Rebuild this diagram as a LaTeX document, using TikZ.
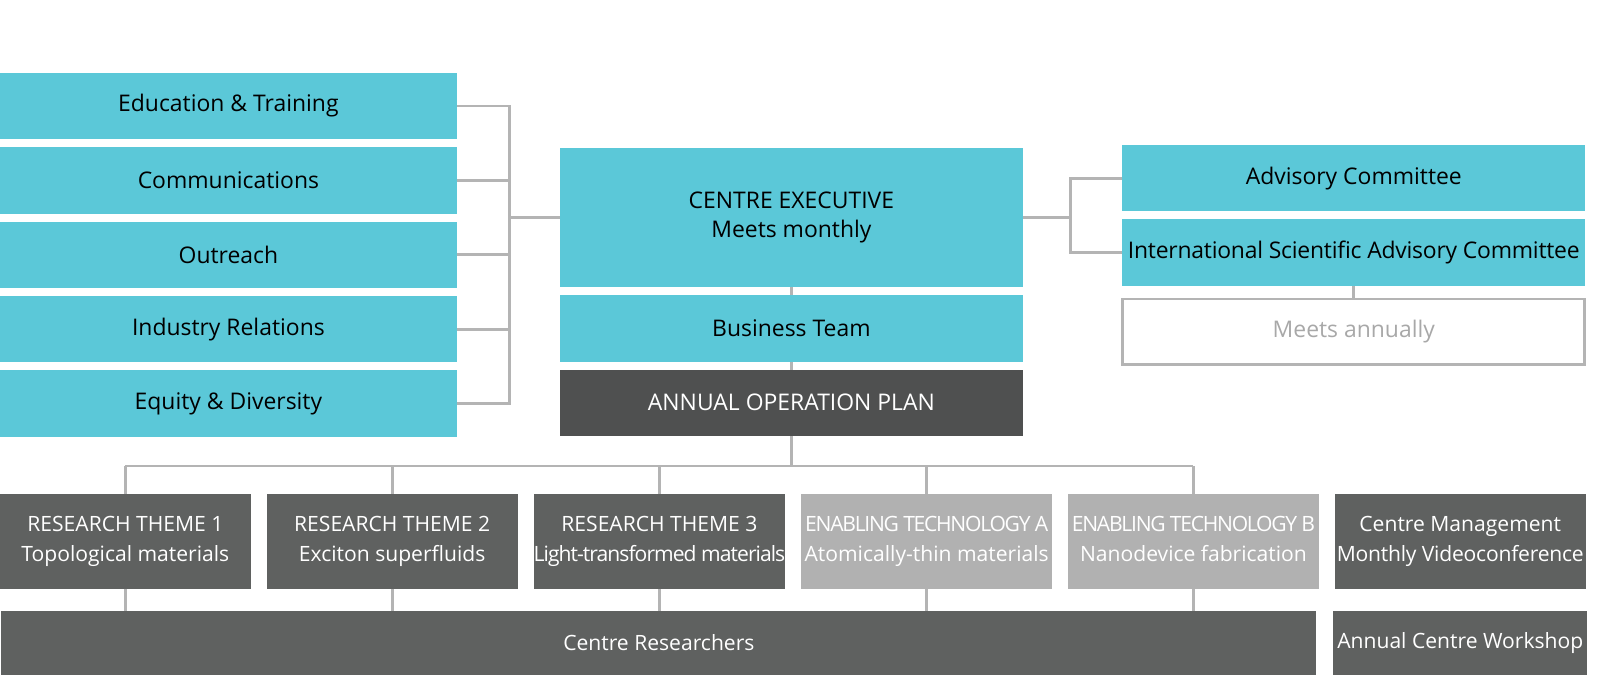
\documentclass[tikz,border=0pt]{standalone}
\usepackage{fontspec}
\setmainfont{Open Sans}
\newfontfamily\tightfont[LetterSpace=-6]{Open Sans}
\newfontfamily\narrowfont[LetterSpace=-4.5]{Open Sans}
\newfontfamily\snugfont[LetterSpace=-1]{Open Sans}
\usepackage{xcolor}
\usepackage{tikz}
\usetikzlibrary{positioning}
\definecolor{chartteal}{RGB}{91,200,216}
\definecolor{plangrey}{RGB}{79,80,80}
\definecolor{themegrey}{RGB}{95,97,96}
\definecolor{techgrey}{RGB}{177,177,177}
\definecolor{linkgrey}{RGB}{180,180,180}
\definecolor{meetgrey}{RGB}{168,168,168}
\tikzset{
    boxbase/.style={
        rectangle,
        inner sep=0pt,
        outer sep=0pt,
        align=center,
        minimum height=1.66cm,
        font=\fontsize{16.3}{21}\selectfont
    },
    sidebox/.style={boxbase, fill=chartteal, minimum width=11.42cm},
    centrebox/.style={boxbase, fill=chartteal, minimum width=11.57cm},
    planbox/.style={boxbase, fill=plangrey, text=white, minimum width=11.57cm},
    meetbox/.style={boxbase, draw=linkgrey, line width=2.1pt, text=meetgrey, minimum width=11.55cm, minimum height=1.64cm},
    themebox/.style={boxbase, fill=themegrey, text=white, minimum width=6.27cm, minimum height=2.38cm, font=\fontsize{15}{21}\selectfont},
    techbox/.style={themebox, fill=techgrey},
    link/.style={draw=linkgrey, line width=2.1pt},
}
\begin{document}
\begin{tikzpicture}[node distance=0.2cm]
    \useasboundingbox (0,0) rectangle (40.15,-16.95);

    % committees on the left
    \node[sidebox, anchor=north west] (edu) at (0,-1.82) {Education \& Training};
    \node[sidebox, below=of edu] (comms) {Communications};
    \node[sidebox, below=of comms] (outreach) {Outreach};
    \node[sidebox, below=of outreach] (industry) {Industry Relations};
    \node[sidebox, below=of industry] (equity) {Equity \& Diversity};

    % centre column
    \node[centrebox, anchor=north west, minimum height=3.49cm] (exec) at (14.0,-3.69) {CENTRE EXECUTIVE\\Meets monthly};
    \node[centrebox, below=of exec] (business) {Business Team};
    \node[planbox, below=of business] (plan) {ANNUAL OPERATION PLAN};

    % advisory side
    \node[centrebox, anchor=north west] (advisory) at (28.06,-3.625) {Advisory Committee};
    \node[centrebox, below=of advisory] (isac) {\snugfont International Scientific Advisory Committee};
    \node[meetbox, below=0.33cm of isac] (meets) {Meets annually};

    % themes and technologies
    \node[themebox, anchor=north west] (theme1) at (0,-12.35) {RESEARCH THEME 1\\Topological materials};
    \node[themebox, right=0.4cm of theme1] (theme2) {RESEARCH THEME 2\\Exciton superfluids};
    \node[themebox, right=0.4cm of theme2] (theme3) {RESEARCH THEME 3\\{\narrowfont Light-transformed materials}};
    \node[techbox, right=0.4cm of theme3] (techA) {{\tightfont ENABLING TECHNOLOGY A}\\Atomically-thin materials};
    \node[techbox, right=0.4cm of techA] (techB) {{\tightfont ENABLING TECHNOLOGY B}\\Nanodevice fabrication\vphantom{y}};
    \node[themebox, right=0.4cm of techB] (mgmt) {Centre Management\\{\snugfont Monthly Videoconference}};
    \node[themebox, below=0.535cm of mgmt, minimum width=6.34cm, minimum height=1.61cm] (workshop) {Annual Centre Workshop};
    \node[themebox, left=0.43cm of workshop, minimum width=32.87cm, minimum height=1.61cm] (researchers) {Centre Researchers};

    % connectors
    \draw[link] (edu.east) -- ++(1.31,0) |- (exec.west);
    \draw[link] (equity.east) -- ++(1.31,0) |- (exec.west);
    \draw[link] (comms.east) -- ++(1.31,0);
    \draw[link] (outreach.east) -- ++(1.31,0);
    \draw[link] (industry.east) -- ++(1.31,0);
    \draw[link] (exec.east) -- ++(1.19,0);
    \draw[link] (advisory.west) -- ++(-1.3,0) |- (isac.west);
    \draw[link] (isac.south) -- (meets.north);
    \draw[link] (exec.south) -- (business.north);
    \draw[link] (business.south) -- (plan.north);
    \draw[link] (plan.south) -- ++(0,-0.75) coordinate (bus);
    \draw[link] (theme1.north |- bus) -- (techB.north |- bus);
    \foreach \n in {theme1,theme2,theme3,techA,techB} {
        \draw[link] (\n.north |- bus) -- (\n.north);
        \draw[link] (\n.south) -- (\n.south |- researchers.north);
    }
\end{tikzpicture}
\end{document}
